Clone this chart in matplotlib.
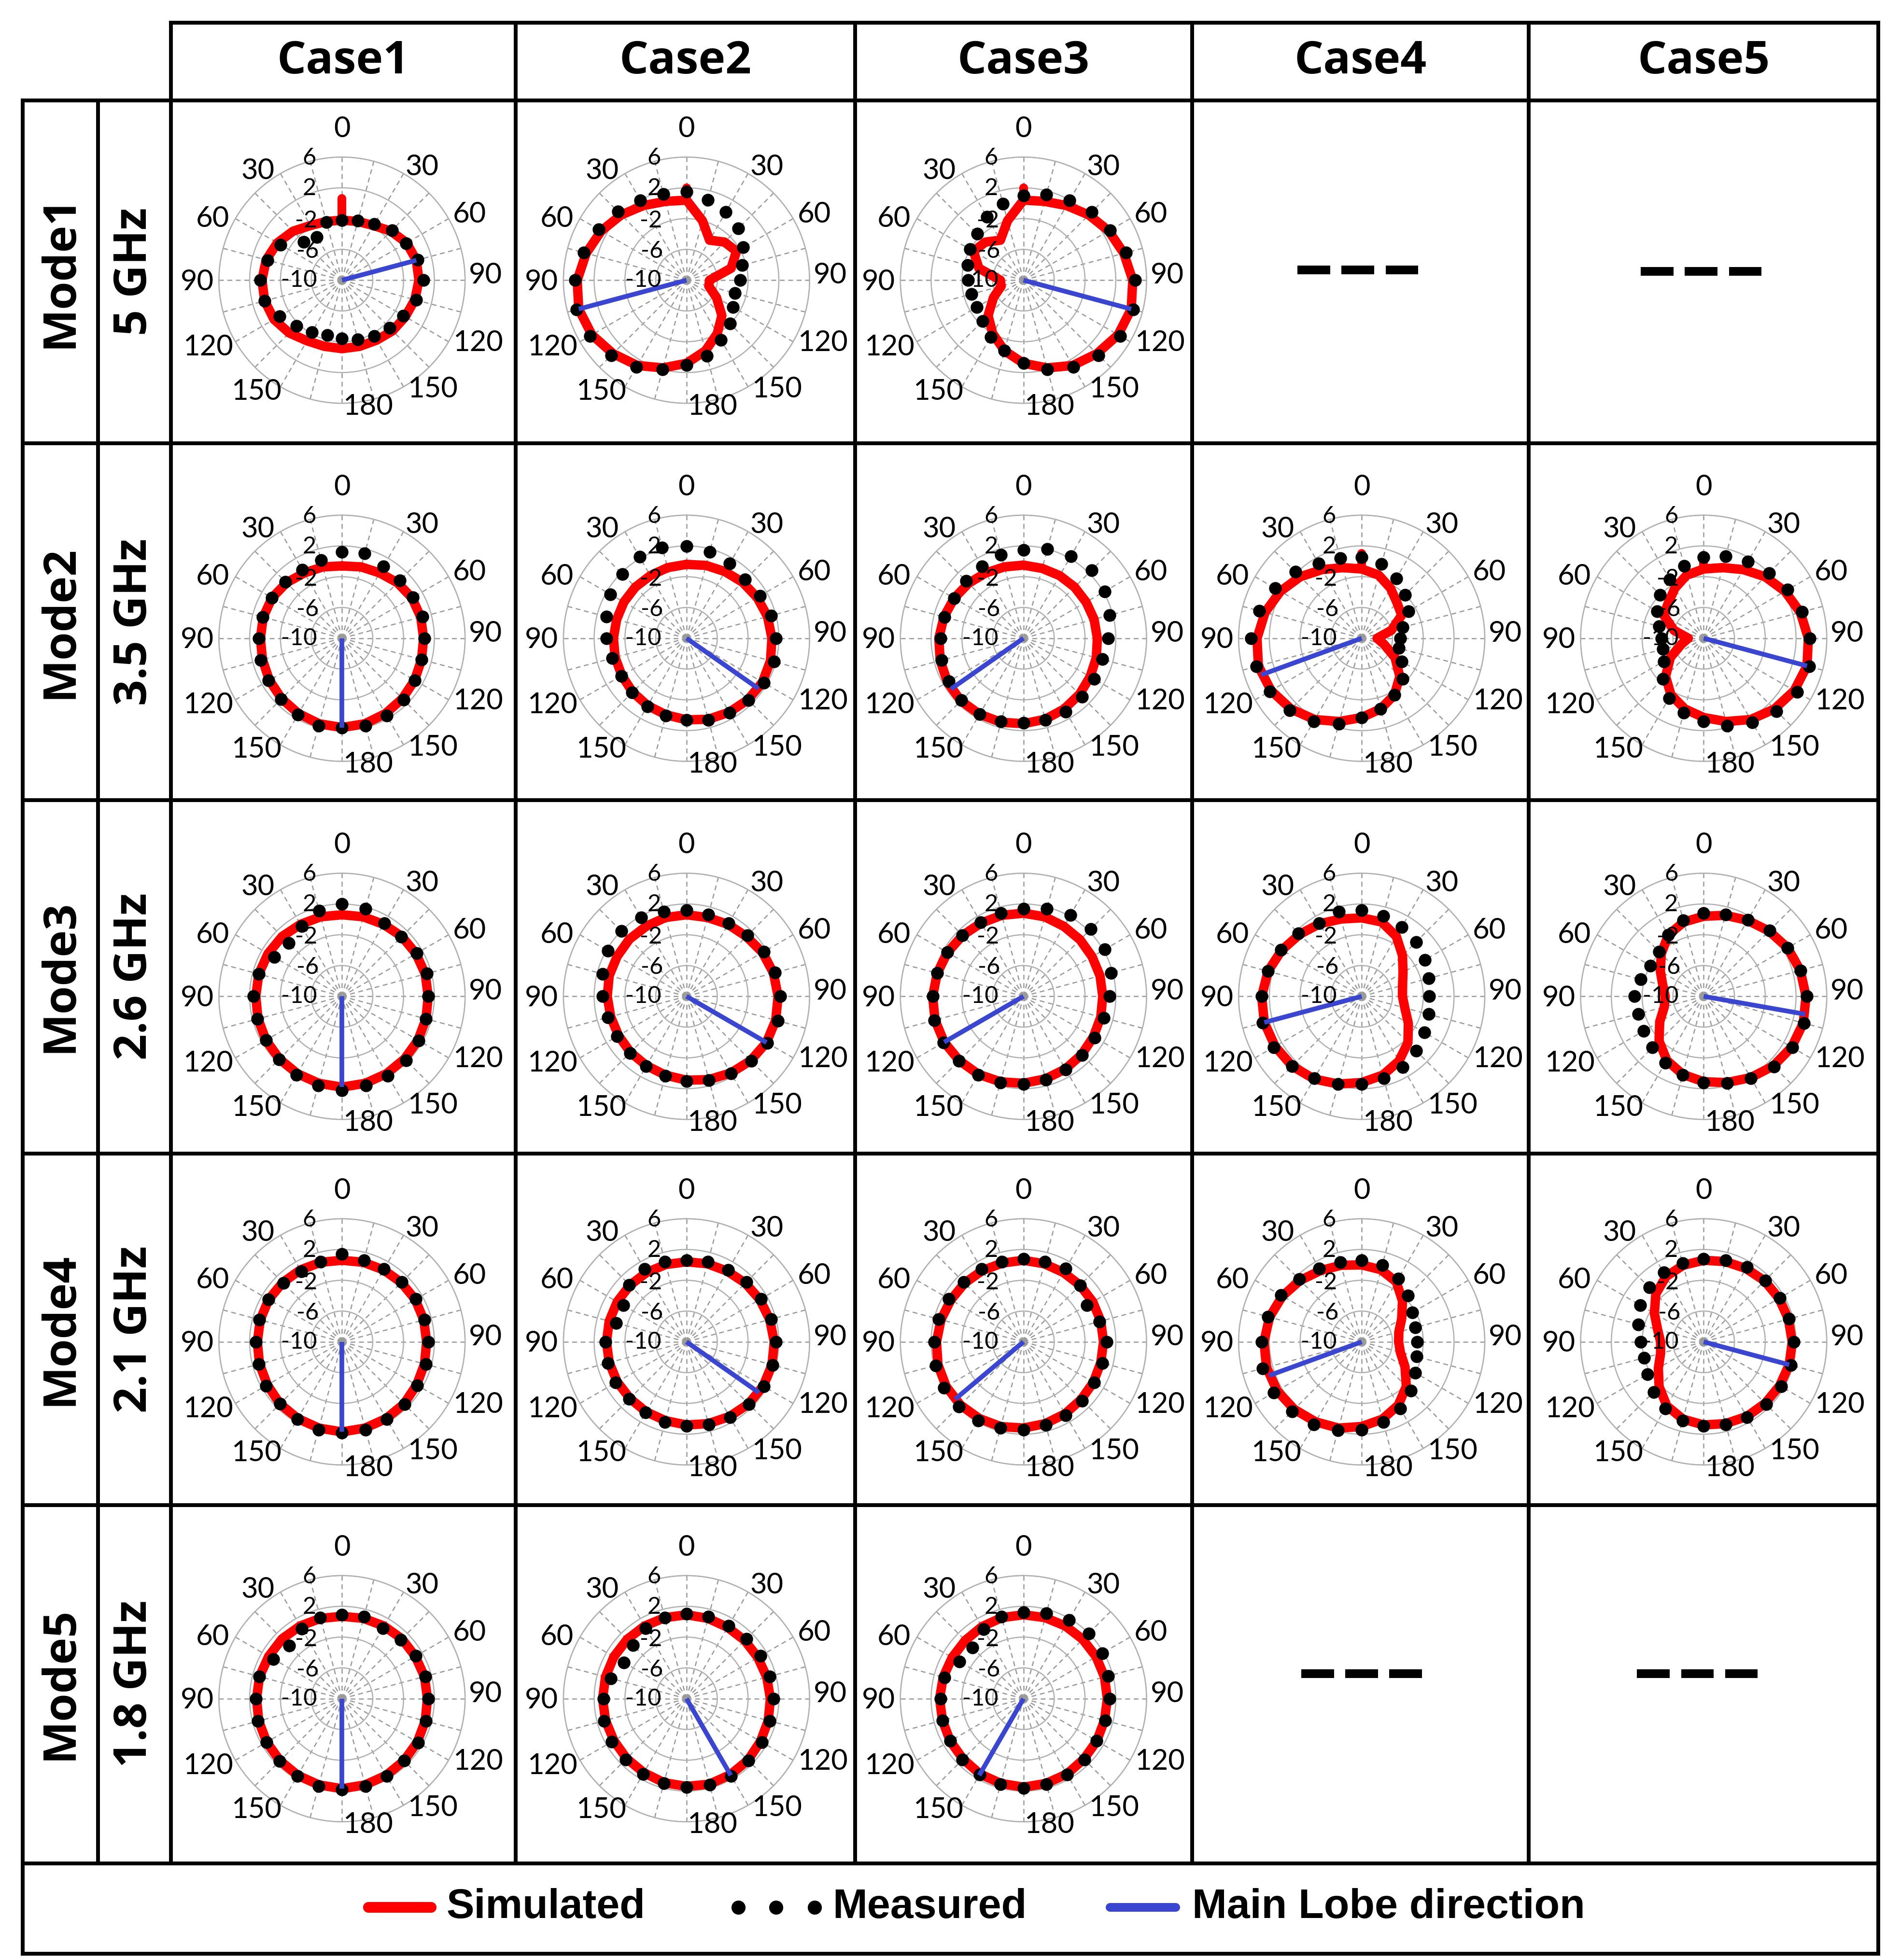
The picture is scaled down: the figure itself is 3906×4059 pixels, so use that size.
import numpy as np
import matplotlib
matplotlib.use("Agg")
import matplotlib.pyplot as plt
from matplotlib.lines import Line2D

cases = ["Case1", "Case2", "Case3", "Case4", "Case5"]
modes = ["Mode1", "Mode2", "Mode3", "Mode4", "Mode5"]
freqs = ["5 GHz", "3.5 GHz", "2.6 GHz", "2.1 GHz", "1.8 GHz"]
angles_deg = list(range(0, 360, 15))  # clockwise from top
ring_ticks = [6, 2, -2, -6, -10]
angle_labels = ["0", "30", "60", "90", "120", "150", "180", "150", "120", "90", "60", "30"]

# simulated gain (dB) at angles_deg, per mode / case (None = empty cell)
sim_mode1 = [
    [-2.2,-2.1,-1.8,-1.0,-0.3,0.0,0.0,-0.2,-0.5,-0.7,-1.0,-1.1,-1.1,-1.1,-0.9,-0.3,0.2,0.4,0.4,0.2,-0.3,-1.0,-1.8,-2.1],
    [0.4,-2,-4,-3,-2.5,-4,-7,-7,-5.5,-3.5,-2,-0.5,0.8,1.8,2.8,3.5,4.2,4.5,4.2,3.5,2.8,2.0,1.2,0.6],
    [0.4,0.6,1.2,2.0,2.8,3.5,4.2,4.5,4.2,3.5,2.8,1.8,0.8,-0.5,-2,-3.5,-5.5,-7,-7,-4,-2.5,-3,-4,-2],
    None, None]
meas_mode1 = [
    [-2.2,-2.0,-1.6,-0.8,-0.4,0.2,0.6,0.0,-0.8,-1.2,-1.6,-2.0,-2.4,-2.6,-2.2,-1.6,-0.6,0.4,0.6,0.0,-0.8,-3.0,-3.5,-2.2],
    [1.5,0.8,0.2,-0.5,-1.5,-2.5,-3,-3.5,-3,-2,-1,0.2,1.0,2.0,3.0,3.8,4.5,4.8,4.5,3.8,3.2,2.6,2.0,1.6],
    [1,1.5,2,2.5,3,3.8,4.5,4.8,4.5,3.8,3.0,2.0,0.8,-0.5,-1.5,-2.5,-3.0,-3.0,-2.8,-2.5,-2.0,-1.5,-0.5,0.3],
    None, None]
sim_mode2 = [
    [-0.6,-0.4,-0.2,0.2,0.5,0.6,0.6,0.7,0.9,1.1,1.3,1.5,1.6,1.5,1.3,1.1,0.9,0.7,0.6,0.6,0.5,0.2,-0.2,-0.4],
    [-0.4,-0.2,0.0,0.3,0.6,0.9,1.1,1.3,1.4,1.3,1.1,0.9,0.6,0.3,0.1,-0.1,-0.3,-0.4,-0.5,-0.6,-0.6,-0.6,-0.6,-0.5],
    [-0.5,-0.6,-0.6,-0.6,-0.6,-0.5,-0.4,-0.2,0.0,0.3,0.6,0.9,1.1,1.3,1.4,1.5,1.4,1.2,1.0,0.7,0.4,0.1,-0.2,-0.4],
    [-1.0,-1.5,-2.5,-3.5,-4,-6,-8,-7,-5,-3,-1.5,-0.5,0.3,1.2,2.2,3.0,3.6,3.9,3.6,3.0,2.2,1.3,0.3,-0.5],
    [-1.0,-0.5,0.3,1.3,2.2,3.0,3.6,3.9,3.6,3.0,2.2,1.2,0.3,-0.5,-1.5,-3,-5,-7,-8,-6,-4,-3.5,-2.5,-1.5]]
meas_mode2 = [
    [1.2,1.4,0.8,0.6,0.6,0.8,0.7,0.7,0.9,1.3,1.6,1.8,1.6,1.8,1.5,1.2,1.0,0.9,0.8,0.7,0.5,0.4,0.3,0.5],
    [2.0,1.6,1.2,0.8,1.0,1.4,1.6,1.8,1.6,1.4,1.2,1.0,0.6,0.4,0.2,0.0,-0.2,0.0,0.4,0.8,1.4,1.8,2.2,2.2],
    [1.5,2.0,2.3,2.5,2.2,1.6,1.0,0.6,0.6,0.8,1.0,1.0,1.0,1.2,1.4,1.4,1.2,1.0,0.8,0.6,0.4,0.5,0.8,1.2],
    [0.5,0,-1,-2,-3,-4.5,-5,-5,-4,-2.5,-1.5,-0.5,0.3,1.5,2.5,3.2,3.8,4.2,4.4,3.8,3.0,2.2,1.2,0.8],
    [0.5,1.0,1.5,2.0,2.6,3.2,3.8,4.2,4.0,3.4,2.6,1.8,0.8,0.0,-1.0,-2.5,-4,-4.5,-4.5,-4,-3,-2,-1.2,-0.3]]
sim_mode3 = [
    [0.6,0.7,0.8,1.0,1.1,1.2,1.2,1.3,1.4,1.5,1.6,1.7,1.8,1.7,1.6,1.5,1.4,1.3,1.2,1.2,1.1,1.0,0.8,0.7],
    [0.6,0.6,0.8,1.0,1.4,1.7,1.9,2.0,2.0,1.8,1.5,1.2,0.9,0.6,0.4,0.3,0.2,0.2,0.3,0.4,0.4,0.5,0.5,0.6],
    [0.8,0.7,0.5,0.4,0.3,0.3,0.3,0.4,0.5,0.7,0.9,1.1,1.3,1.5,1.7,1.8,1.9,1.9,1.8,1.6,1.4,1.2,1.0,0.9],
    [0.2,0.0,-1.0,-2.5,-3.8,-4.5,-4.7,-4.2,-3.0,-1.5,-0.3,0.6,1.2,1.8,2.4,2.8,3.0,3.1,3.0,2.6,2.0,1.4,0.9,0.4],
    [0.4,0.9,1.4,2.0,2.6,3.0,3.3,3.4,3.2,2.8,2.2,1.6,1.1,0.5,-0.4,-1.8,-3.4,-4.7,-5.0,-4.5,-3.5,-2.2,-0.8,0.0]]
meas_mode3 = [
    [2.0,1.8,1.0,0.9,1.2,1.4,1.2,1.3,1.5,1.8,1.9,2.0,2.2,2.0,1.8,1.6,1.4,1.4,1.5,1.2,0.2,-0.2,0.5,1.5],
    [1.2,1.0,1.0,1.2,1.6,1.9,2.2,2.3,2.1,1.9,1.6,1.3,1.0,0.7,0.5,0.4,0.4,0.6,0.9,1.3,1.8,2.0,1.8,1.4],
    [1.4,1.8,2.2,2.4,2.2,1.8,1.2,0.8,0.7,0.8,1.0,1.2,1.4,1.6,1.8,1.9,2.0,2.0,1.8,1.6,1.4,1.2,1.1,1.2],
    [1.2,0.8,0.4,0.0,-0.5,-1.0,-1.2,-1.0,-0.6,0.0,0.6,1.0,1.4,1.8,2.3,2.8,3.2,3.3,3.0,2.6,2.1,1.6,1.0,1.4],
    [0.8,1.0,1.5,2.1,2.6,3.0,3.4,3.5,3.3,2.9,2.3,1.7,1.2,0.6,0.0,-0.6,-1.0,-1.2,-1.0,-1.5,-2.0,-1.8,-0.8,0.2]]
sim_mode4 = [
    [0.6,0.7,0.8,0.9,1.0,1.0,1.0,1.1,1.2,1.4,1.5,1.6,1.7,1.6,1.5,1.4,1.2,1.1,1.0,1.0,1.0,0.9,0.8,0.7],
    [0.4,0.5,0.6,0.8,1.0,1.2,1.4,1.5,1.5,1.4,1.2,1.0,0.8,0.6,0.5,0.4,0.4,0.4,0.4,0.4,0.4,0.4,0.4,0.4],
    [0.6,0.5,0.4,0.4,0.4,0.4,0.4,0.4,0.5,0.6,0.8,1.0,1.2,1.4,1.5,1.6,1.6,1.5,1.3,1.1,0.9,0.8,0.7,0.6],
    [0.0,-0.3,-1.0,-2.5,-4.0,-5.0,-5.2,-4.8,-3.5,-1.8,-0.5,0.4,1.0,1.6,2.0,2.4,2.7,2.8,2.7,2.4,1.9,1.3,0.7,0.3],
    [0.6,0.8,1.0,1.2,1.3,1.4,1.5,1.5,1.4,1.3,1.2,1.0,0.8,0.4,-0.4,-1.8,-3.2,-4.2,-4.4,-3.8,-2.6,-1.2,-0.2,0.3]]
meas_mode4 = [
    [1.4,1.0,0.9,1.0,1.1,1.1,1.2,1.3,1.3,1.5,1.6,1.8,1.8,1.8,1.6,1.4,1.4,1.2,1.2,1.1,1.0,0.8,0.6,0.8],
    [0.6,0.8,0.8,1.0,1.2,1.4,1.6,1.6,1.6,1.5,1.3,1.1,0.9,0.8,0.6,0.5,0.6,0.6,0.5,-0.5,-0.5,0.5,0.9,0.8],
    [0.8,0.8,1.0,0.4,-0.5,0.2,0.8,0.6,0.6,0.8,1.0,1.2,1.4,1.6,1.8,1.9,1.9,1.8,1.6,1.4,1.2,1.0,0.9,0.8],
    [0.6,0.3,-0.5,-1.5,-2.4,-2.8,-2.8,-2.6,-2.0,-1.0,0.0,0.8,1.4,1.9,2.4,2.8,3.2,3.3,3.0,2.6,2.1,1.5,1.0,0.7],
    [0.8,1.0,1.2,1.3,1.4,1.5,1.7,1.7,1.6,1.5,1.3,1.1,0.9,0.6,0.0,-0.8,-1.6,-2.0,-1.8,-1.2,-0.5,0.0,0.4,0.6]]
sim_mode5 = [
    [0.7,0.8,0.9,1.0,1.0,1.1,1.1,1.2,1.3,1.4,1.5,1.6,1.7,1.6,1.5,1.4,1.3,1.2,1.1,1.1,1.0,1.0,0.9,0.8],
    [0.9,0.8,0.7,0.7,0.7,0.8,0.9,1.0,1.1,1.3,1.4,1.5,1.4,1.3,1.1,1.0,0.9,0.9,0.9,0.9,0.9,0.9,0.9,0.9],
    [0.9,0.9,0.9,0.9,0.9,0.9,0.9,0.9,1.0,1.1,1.3,1.4,1.5,1.4,1.3,1.1,1.0,0.9,0.9,0.8,0.7,0.7,0.8,0.9],
    None, None]
meas_mode5 = [
    [0.9,1.0,0.6,0.8,1.1,1.2,1.2,1.3,1.4,1.4,1.6,1.8,1.8,1.8,1.6,1.5,1.3,1.3,1.2,1.1,0.3,-0.3,0.5,0.9],
    [1.0,1.0,0.9,1.0,1.1,1.2,1.3,1.2,1.3,1.4,1.6,1.6,1.5,1.4,1.3,1.2,1.2,1.1,0.8,0.2,-0.6,-0.2,0.6,0.9],
    [1.2,1.5,1.8,2.0,1.8,1.4,1.2,1.0,1.0,1.2,1.4,1.5,1.6,1.5,1.4,1.2,1.0,0.9,0.8,0.6,-0.4,-0.6,0.4,1.0],
    None, None]
# main lobe direction (deg, clockwise from top) and level (dB)
lobe_angle = [[75, 255, 105, None, None],
              [180, 125, 235, 250, 105],
              [180, 120, 240, 255, 100],
              [180, 125, 230, 250, 105],
              [180, 150, 210, None, None]]
lobe_level = [[0.0, 4.5, 4.5, None, None],
              [1.6, 1.4, 1.5, 3.9, 3.9],
              [1.8, 2.0, 1.9, 3.1, 3.4],
              [1.7, 1.5, 1.6, 2.8, 1.5],
              [1.7, 1.5, 1.5, None, None]]
# narrow spike at 0 deg (level dB), None = no spike
spike_level = [[0.6, 2.0, 2.0, None, None],
               [None, None, None, 1.0, 0.8],
               [None]*5, [None]*5, [None]*5]

SIM = [sim_mode1, sim_mode2, sim_mode3, sim_mode4, sim_mode5]
MEAS = [meas_mode1, meas_mode2, meas_mode3, meas_mode4, meas_mode5]

# ---------- layout (in reference display units 1500 x 1560) ----------
W, H = 1500.0, 1560.0
fig = plt.figure(figsize=(39.06, 40.59), dpi=100)
fig.patch.set_facecolor("white")

def fx(x): return x / W
def fy(y): return 1 - y / H

col_cx = [272, 546, 814, 1083, 1355]
row_cy = [223, 508, 793, 1068, 1352]
R = 98
tick_font = "Lato"
RED = "#ff0000"
BLUE = "#3a45d0"

ang_pos = [(0.500, 1.114), (0.825, 0.960), (1.018, 0.768), (1.083, 0.520), (1.053, 0.245),
           (0.868, 0.057), (0.605, -0.013), (0.153, 0.048), (-0.044, 0.228), (-0.088, 0.493),
           (-0.026, 0.750), (0.158, 0.943)]
ring_pos = [(0.368, 0.996), (0.368, 0.873), (0.355, 0.741), (0.360, 0.618), (0.325, 0.500)]

for i in range(5):
    for j in range(5):
        sim = SIM[i][j]
        if sim is None:
            continue
        ax = fig.add_axes([fx(col_cx[j] - R), fy(row_cy[i] + R), (2 * R) / W, (2 * R) / H],
                          projection="polar")
        ax.set_theta_zero_location("N")
        ax.set_theta_direction(-1)
        ax.set_ylim(-10, 6)
        ax.set_rticks([-6, -2, 2, 6])
        ax.set_yticklabels([])
        ax.set_xticks(np.deg2rad(np.arange(0, 360, 15)))
        ax.set_xticklabels([])
        ax.xaxis.grid(True, color="#9a9a9a", linestyle=(0, (4, 3)), linewidth=1.8)
        ax.yaxis.grid(True, color="#b0b0b0", linestyle="-", linewidth=1.8)
        ax.spines["polar"].set_color("#b0b0b0")
        ax.spines["polar"].set_linewidth(1.8)
        ax.set_facecolor("none")
        th = np.deg2rad(angles_deg + [360])
        ax.plot(th, sim + [sim[0]], color=RED, lw=14, solid_capstyle="round",
                solid_joinstyle="round", zorder=3)
        sp = spike_level[i][j]
        if sp is not None:
            ax.plot([0, 0], [sim[0], sp], color=RED, lw=13, solid_capstyle="round", zorder=3)
        meas = MEAS[i][j]
        ax.plot(np.deg2rad(angles_deg), meas, "o", color="black", ms=18, zorder=4, clip_on=False)
        la = np.deg2rad(lobe_angle[i][j])
        ax.plot([la, la], [-10, lobe_level[i][j]], color=BLUE, lw=7, zorder=5,
                solid_capstyle="butt")
        for lab, (px, py) in zip(angle_labels, ang_pos):
            ax.text(px, py, lab, transform=ax.transAxes, ha="center", va="center",
                    fontsize=43, family=tick_font, color="black", clip_on=False)
        for v, (px, py) in zip(ring_ticks, ring_pos):
            ax.text(px, py, str(v), transform=ax.transAxes, ha="center", va="center",
                    fontsize=35, family=tick_font, color="black", zorder=6)

# ---------- table lines ----------
lw_t = 5.7
def line(x0, y0, x1, y1):
    fig.add_artist(Line2D([fx(x0), fx(x1)], [fy(y0), fy(y1)], color="black", lw=lw_t,
                          solid_capstyle="projecting"))

line(136, 18, 1494, 18)
for y in [80, 353, 637, 918, 1198, 1483, 1555]:
    line(18, y, 1494, y)
line(18, 80, 18, 1555)
line(1494, 18, 1494, 1555)
line(78, 80, 78, 1483)
for x in [136, 410, 680, 948, 1216]:
    line(x, 18, x, 1483)

hfont = "Open Sans"
col_mid = [273, 545, 814, 1082, 1355]
for j, c in enumerate(cases):
    fig.text(fx(col_mid[j]), fy(49), c, ha="center", va="center", fontsize=68,
             fontweight="bold", family=hfont)
row_mid = [216, 495, 777, 1058, 1340]
for i in range(5):
    fig.text(fx(48), fy(row_mid[i]), modes[i], ha="center", va="center", fontsize=68,
             fontweight="bold", family=hfont, rotation=90)
    fig.text(fx(107), fy(row_mid[i]), freqs[i], ha="center", va="center", fontsize=68,
             fontweight="bold", family=hfont, rotation=90)

# empty-cell dashes
for (xs, y) in [(1032, 215), (1305, 216), (1035, 1332), (1302, 1332)]:
    for k in range(3):
        x0 = xs + k * 35
        fig.add_artist(Line2D([fx(x0), fx(x0 + 26)], [fy(y), fy(y)], color="black", lw=13,
                              solid_capstyle="butt"))

# legend
ly = 1518
fig.add_artist(Line2D([fx(293), fx(343)], [fy(ly), fy(ly)], color=RED, lw=16,
                      solid_capstyle="round"))
fig.text(fx(355), fy(ly), "Simulated", ha="left", va="center", fontsize=62,
         fontweight="bold", family="Liberation Sans")
fig.add_artist(Line2D([fx(587), fx(617), fx(648)], [fy(ly)] * 3, ls="none", marker="o",
                      color="black", ms=20))
fig.text(fx(662), fy(ly), "Measured", ha="left", va="center", fontsize=62,
         fontweight="bold", family="Liberation Sans")
fig.add_artist(Line2D([fx(883), fx(935)], [fy(ly), fy(ly)], color=BLUE, lw=13,
                      solid_capstyle="round"))
fig.text(fx(948), fy(ly), "Main Lobe direction", ha="left", va="center", fontsize=62,
         fontweight="bold", family="Liberation Sans")

fig.savefig("out.png", dpi=100, facecolor="white")
